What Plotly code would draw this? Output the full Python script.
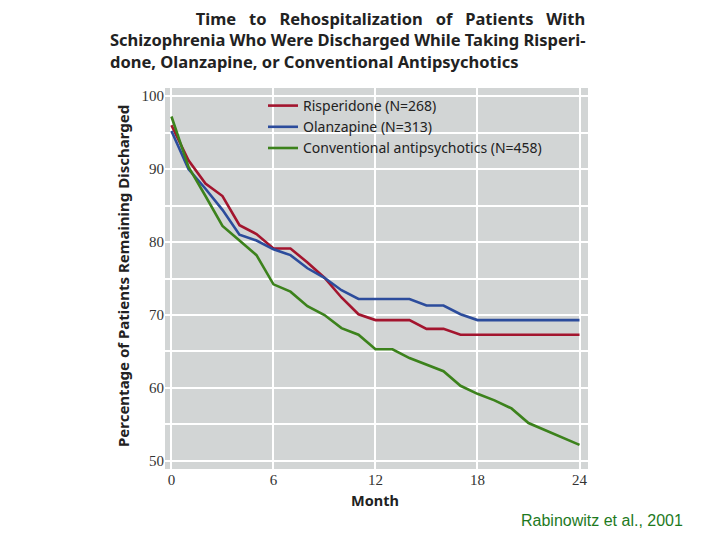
import plotly.graph_objects as go

months = list(range(0, 25))
risperidone = [96.0, 91.2, 88.0, 86.3, 82.3, 81.1, 79.1, 79.1, 77.2, 75.1, 72.4, 70.1, 69.3,
               69.3, 69.3, 68.1, 68.1, 67.3, 67.3, 67.3, 67.3, 67.3, 67.3, 67.3, 67.3]
olanzapine = [95.2, 90.0, 87.3, 84.4, 81.0, 80.2, 79.0, 78.2, 76.4, 75.1, 73.4, 72.2, 72.2,
              72.2, 72.2, 71.3, 71.3, 70.1, 69.3, 69.3, 69.3, 69.3, 69.3, 69.3, 69.3]
conventional = [97.2, 90.3, 86.3, 82.2, 80.2, 78.2, 74.2, 73.2, 71.2, 70.0, 68.2, 67.3, 65.3,
                65.3, 64.1, 63.2, 62.3, 60.3, 59.2, 58.3, 57.2, 55.2, 54.2, 53.1, 52.2]

series_names = ["Risperidone (N=268)", "Olanzapine (N=313)", "Conventional antipsychotics (N=458)"]
series_values = [risperidone, olanzapine, conventional]
series_colors = ["#A3152E", "#2C4C9C", "#3C821C"]

x_ticks = [0, 6, 12, 18, 24]
y_ticks = [50, 60, 70, 80, 90, 100]

# screen-space plot area (page has an 8px body margin)
PL, PR, PT, PB = 165, 588, 88, 469
PW, PH = PR - PL, PB - PT


def px(x):
    return (x - PL) / PW


def py(y):
    return (PB - y) / PH


fig = go.Figure()
for name, vals, col in zip(series_names, series_values, series_colors):
    fig.add_trace(go.Scatter(x=months, y=vals, mode="lines", name=name,
                             line=dict(color=col, width=2.6)))

tick_font = dict(family="Liberation Serif", size=15, color="#333333")

fig.update_layout(
    width=712, height=532,
    paper_bgcolor="white",
    plot_bgcolor="#D2D5D5",
    margin=dict(l=PL - 8, r=712 - (PR - 8), t=PT - 8, b=532 - (PB - 8)),
    showlegend=True,
    legend=dict(x=px(263), y=py(90), xanchor="left", yanchor="top",
                bgcolor="rgba(0,0,0,0)", font=dict(family="Noto Sans", size=14, color="#222222"),
                tracegroupgap=0),
    font=dict(family="Noto Sans", color="#222222"),
)

fig.update_xaxes(range=[-0.38, 24.5], tickvals=x_ticks, ticktext=[str(v) for v in x_ticks],
                 showgrid=True, gridcolor="white", gridwidth=1.5, zeroline=False,
                 showline=False, ticks="", tickfont=tick_font)
fig.update_yaxes(range=[48.9, 101.1], tickvals=y_ticks, ticktext=[str(v) for v in y_ticks],
                 showgrid=True, gridcolor="white", gridwidth=1.5, zeroline=False,
                 showline=False, ticks="", tickfont=tick_font,
                 minor=dict(dtick=5, tick0=0, showgrid=True, gridcolor="white", gridwidth=1.5))

title_font = dict(family="Noto Sans", size=16.5, color="#222222", weight="bold")
sp = "&nbsp;" * 3
line1 = "&nbsp;" * 20 + sp.join(["Time", "to", "Rehospitalization", "of", "Patients", "With"])
title_text = (line1 + "<br>Schizophrenia Who Were Discharged While Taking Risperi-"
              "<br>done, Olanzapine, or Conventional Antipsychotics")
fig.add_annotation(text=title_text, xref="paper", yref="paper",
                   x=px(108), y=py(40), xanchor="left", yanchor="middle", align="left",
                   showarrow=False, font=title_font)

fig.add_annotation(text="Percentage of Patients Remaining Discharged", xref="paper", yref="paper",
                   x=px(123), y=py(276), xanchor="center", yanchor="middle",
                   textangle=-90, showarrow=False,
                   font=dict(family="Noto Sans", size=15, color="#222222", weight="bold"))
fig.add_annotation(text="Month", xref="paper", yref="paper",
                   x=px(375), y=py(500), xanchor="center", yanchor="middle",
                   showarrow=False,
                   font=dict(family="Noto Sans", size=14.5, color="#222222", weight="bold"))
fig.add_annotation(text="Rabinowitz et al., 2001", xref="paper", yref="paper",
                   x=px(685), y=py(520), xanchor="right", yanchor="middle",
                   showarrow=False,
                   font=dict(family="Liberation Sans", size=16, color="#1E7A1E"))

fig.write_html("out.html")
